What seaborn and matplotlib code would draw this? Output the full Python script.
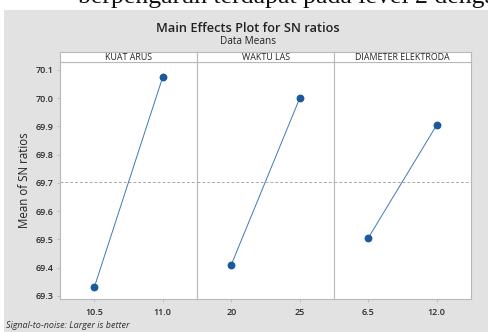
import matplotlib
matplotlib.use("Agg")
import matplotlib.pyplot as plt
from matplotlib.patches import Rectangle
import seaborn as sns
import pandas as pd

factors = ["KUAT ARUS", "WAKTU LAS", "DIAMETER ELEKTRODA"]
levels = [["10.5", "11.0"], ["20", "25"], ["6.5", "12.0"]]
sn_means = [[69.33, 70.075], [69.41, 70.00], [69.505, 69.905]]
y_ticks = [69.3, 69.4, 69.5, 69.6, 69.7, 69.8, 69.9, 70.0, 70.1]

rows = []
for f, lv, vals in zip(factors, levels, sn_means):
    for l, v in zip(lv, vals):
        rows.append({"factor": f, "level": l, "value": v})
df = pd.DataFrame(rows)
overall_mean = df["value"].mean()

sns.set_style("white")
plt.rcParams["font.family"] = ["Open Sans", "DejaVu Sans"]

W, H = 488, 332
fig = plt.figure(figsize=(W / 100, H / 100), dpi=100, facecolor="white")

# gray chart background
fig.patches.append(Rectangle((4 / W, 0), 1 - 4 / W, 1 - 10 / H, transform=fig.transFigure,
                             facecolor="#e2e2e2", edgecolor="none", zorder=-10))

# cut-off document text at the very top
fig.text(78 / W, 1 - 3 / H, "berpengaruh terdapat pada level 2 dengan", ha="left", va="baseline",
         fontsize=18.5, family=["Liberation Serif"], color="#111111", zorder=-5)

left, right = 60 / W, 471 / W
bottom, top = 1 - 299 / H, 1 - 62 / H
strip_top = 1 - 52 / H
pw = (right - left) / 3

line_color = "#3f78b5"
marker_color = "#1a5a9a"
spine_color = "#b8b8b8"

axes = []
for i, f in enumerate(factors):
    ax = fig.add_axes([left + i * pw, bottom, pw, top - bottom])
    sub = df[df["factor"] == f]
    sns.pointplot(data=sub, x="level", y="value", order=levels[i], ax=ax,
                  color=line_color, markers="", linestyle="-", linewidth=0.7, errorbar=None)
    sns.pointplot(data=sub, x="level", y="value", order=levels[i], ax=ax,
                  color=marker_color, markers="o", linestyle="none", markersize=3.6, errorbar=None)
    ax.axhline(overall_mean, color="#a8a8a8", linestyle=(0, (3, 2)), linewidth=0.7, zorder=0)
    ax.set_xlim(-0.5, 1.5)
    ax.set_ylim(69.289, 70.128)
    ax.set_yticks(y_ticks)
    ax.set_xlabel("")
    ax.set_ylabel("")
    ax.set_facecolor("white")
    for s in ax.spines.values():
        s.set_color(spine_color)
        s.set_linewidth(0.8)
        s.set_visible(True)
    ax.tick_params(axis="both", length=2.5, width=0.6, color=spine_color,
                   labelsize=6.5, labelcolor="#2a2a2a", pad=2, direction="out")
    ax.tick_params(axis="x", bottom=True, pad=4)
    if i == 0:
        ax.tick_params(axis="y", left=True)
        ax.set_yticklabels([f"{t:.1f}" for t in y_ticks])
    else:
        ax.tick_params(axis="y", left=False, labelleft=False)
    for lab in ax.get_xticklabels() + ax.get_yticklabels():
        lab.set_fontweight("semibold")
    # strip header
    sax = fig.add_axes([left + i * pw, top, pw, strip_top - top])
    sax.set_xticks([])
    sax.set_yticks([])
    sax.set_facecolor("white")
    for s in sax.spines.values():
        s.set_color(spine_color)
        s.set_linewidth(0.8)
    sax.text(0.5, 0.45, f, ha="center", va="center", fontsize=6.4, color="#222222",
             transform=sax.transAxes)
    axes.append(ax)

fig.text(25 / W, 1 - 180 / H, "Mean of SN ratios", rotation=90, ha="center", va="center",
         fontsize=8.3, color="#222222")
fig.text(248 / W, 1 - 28 / H, "Main Effects Plot for SN ratios", ha="center", va="center",
         fontsize=9.2, color="#222222", fontweight="semibold")
fig.text(248 / W, 1 - 41 / H, "Data Means", ha="center", va="center",
         fontsize=7.2, color="#222222")
fig.text(6 / W, 1 - 326 / H, "Signal-to-noise: Larger is better", ha="left", va="center",
         fontsize=6.5, style="italic", color="#333333")

fig.savefig("out.png", dpi=100, facecolor="white")
